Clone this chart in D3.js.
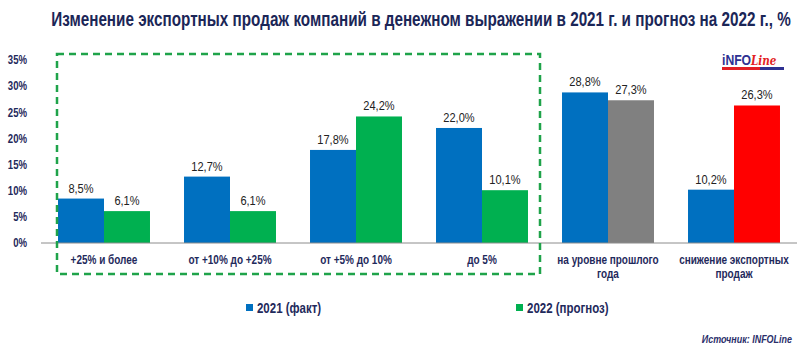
<!DOCTYPE html>
<html>
<head>
<meta charset="utf-8">
<script src="https://cdn.jsdelivr.net/npm/d3@7"></script>
<style>
  body { margin: 0; background: #fff; }
  svg { display: block; font-family: 'Liberation Sans', Arial, sans-serif; }
</style>
</head>
<body>
<div id="chart"></div>
<script>
// Chart data
const categories = [
  ['+25% и более'],
  ['от +10% до +25%'],
  ['от +5% до 10%'],
  ['до 5%'],
  ['на уровне прошлого', 'года'],
  ['снижение экспортных', 'продаж']
]
const values2021 = [8.5, 12.7, 17.8, 22.0, 28.8, 10.2]
const values2022 = [6.1, 6.1, 24.2, 10.1, 27.3, 26.3]
const colors2022 = ['#00B050', '#00B050', '#00B050', '#00B050', '#808080', '#FF0000']
const yTicks = [0, 5, 10, 15, 20, 25, 30, 35]
const seriesNames = ['2021 (факт)', '2022 (прогноз)']

const width = 805
const height = 350
const navy = '#1F2A5C'
const margin = { top: 60, right: 8, bottom: 107, left: 41 }

// The original uses a narrow font, so squeeze wider fonts horizontally
// around the text's own x anchor
function condense (selection, factor) {
  selection.each(function () {
    const el = d3.select(this)
    let ox = el.attr('x')
    if (ox === null) ox = el.select('tspan').attr('x')
    ox = +ox || 0
    const prev = el.attr('transform') || ''
    el.attr('transform', `${prev} translate(${ox},0) scale(${factor},1) translate(${-ox},0)`)
  })
}

const svg = d3.select('#chart').append('svg')
  .attr('width', width)
  .attr('height', height)

// Title, squeezed to the width it has in the original
const title = svg.append('text')
  .attr('x', 421)
  .attr('y', 26)
  .attr('text-anchor', 'middle')
  .attr('fill', '#1B2657')
  .style('font-size', '21px')
  .style('font-weight', 'bold')
  .text('Изменение экспортных продаж компаний в денежном выражении в 2021 г. и прогноз на 2022 г., %')
title.call(condense, 740 / title.node().getComputedTextLength())

// Scales
const xScale = d3.scaleBand()
  .domain(d3.range(categories.length))
  .range([margin.left, width - margin.right])
  .paddingInner(0.27)
  .paddingOuter(0.135)

const yScale = d3.scaleLinear()
  .domain([0, 35])
  .range([height - margin.bottom, margin.top])

// Y axis labels
const yAxis = svg.append('g')
  .attr('transform', 'translate(30,0)')
  .call(d3.axisLeft(yScale).tickValues(yTicks).tickSize(0).tickFormat(d => d + '%'))
yAxis.select('.domain').remove()
yAxis.selectAll('text')
  .attr('fill', navy)
  .style('font-size', '12px')
  .style('font-weight', 'bold')
  .style('font-family', "'Liberation Sans', sans-serif")
  .call(condense, 0.8)

// Bars
const barW = xScale.bandwidth() / 2
const groups = svg.append('g').selectAll('g')
  .data(categories.map((c, i) => ({ label: c, a: values2021[i], b: values2022[i], color: colors2022[i], i })))
  .join('g')
  .attr('transform', d => `translate(${xScale(d.i)},0)`)

groups.append('rect')
  .attr('x', 0)
  .attr('y', d => yScale(d.a))
  .attr('width', barW)
  .attr('height', d => yScale(0) - yScale(d.a))
  .attr('fill', '#0070C0')

groups.append('rect')
  .attr('x', barW)
  .attr('y', d => yScale(d.b))
  .attr('width', barW)
  .attr('height', d => yScale(0) - yScale(d.b))
  .attr('fill', d => d.color)

const fmt = v => v.toFixed(1).replace('.', ',') + '%'

groups.append('text')
  .attr('x', barW / 2)
  .attr('y', d => yScale(d.a) - 6)
  .attr('text-anchor', 'middle')
  .attr('fill', '#222')
  .style('font-size', '13px')
  .text(d => fmt(d.a))
  .call(condense, 0.85)

groups.append('text')
  .attr('x', barW * 1.5)
  .attr('y', d => yScale(d.b) - 6)
  .attr('text-anchor', 'middle')
  .attr('fill', '#222')
  .style('font-size', '13px')
  .text(d => fmt(d.b))
  .call(condense, 0.85)

// Category labels
const catLabels = groups.append('text')
  .attr('text-anchor', 'middle')
  .attr('fill', navy)
  .style('font-size', '12.5px')
  .style('font-weight', 'bold')
catLabels.selectAll('tspan')
  .data(d => d.label)
  .join('tspan')
  .attr('x', barW)
  .attr('y', (d, i) => yScale(0) + 21 + i * 14)
  .text(d => d)
catLabels.call(condense, 0.8)

// Baseline
svg.append('line')
  .attr('x1', margin.left)
  .attr('x2', width - margin.right)
  .attr('y1', yScale(0))
  .attr('y2', yScale(0))
  .attr('stroke', '#8c8c8c')
  .attr('stroke-width', 1)

// Dashed frame round the growth groups
svg.append('rect')
  .attr('x', 57)
  .attr('y', 54)
  .attr('width', 483)
  .attr('height', 220)
  .attr('fill', 'none')
  .attr('stroke', '#1FA34A')
  .attr('stroke-width', 2.5)
  .attr('stroke-dasharray', '7,5')

// Legend
const legend = svg.append('g')
const legendX = [246, 516]
seriesNames.forEach((name, i) => {
  legend.append('rect')
    .attr('x', legendX[i])
    .attr('y', 304)
    .attr('width', 7)
    .attr('height', 7)
    .attr('fill', i === 0 ? '#0070C0' : '#00B050')
  legend.append('text')
    .attr('x', legendX[i] + 11)
    .attr('y', 313)
    .attr('fill', navy)
    .style('font-size', '14px')
    .style('font-weight', 'bold')
    .text(name)
    .call(condense, 0.82)
})

// Source
svg.append('text')
  .attr('x', 792)
  .attr('y', 343)
  .attr('text-anchor', 'end')
  .attr('fill', '#2B2F6B')
  .style('font-size', '11.5px')
  .style('font-weight', 'bold')
  .style('font-style', 'italic')
  .text('Источник: INFOLine')
  .call(condense, 0.78)

// Logo
const logo = svg.append('g').attr('transform', 'translate(722,54)')
logo.append('text')
  .attr('x', 0)
  .attr('y', 11)
  .attr('fill', '#2E3192')
  .style('font-size', '14px')
  .style('font-weight', 'bold')
  .text('iNFO')
  .call(condense, 0.87)
logo.append('text')
  .attr('x', 29)
  .attr('y', 11)
  .attr('fill', '#E31E24')
  .style('font-size', '13px')
  .style('font-style', 'italic')
  .style('font-weight', 'bold')
  .style('font-family', "'DejaVu Serif', serif")
  .text('Line')
  .call(condense, 0.8)
logo.append('rect')
  .attr('x', 0).attr('y', 13).attr('width', 38).attr('height', 3).attr('fill', '#E31E24')
logo.append('rect')
  .attr('x', 38).attr('y', 13).attr('width', 24).attr('height', 3).attr('fill', '#2E3192')
</script>
</body>
</html>
